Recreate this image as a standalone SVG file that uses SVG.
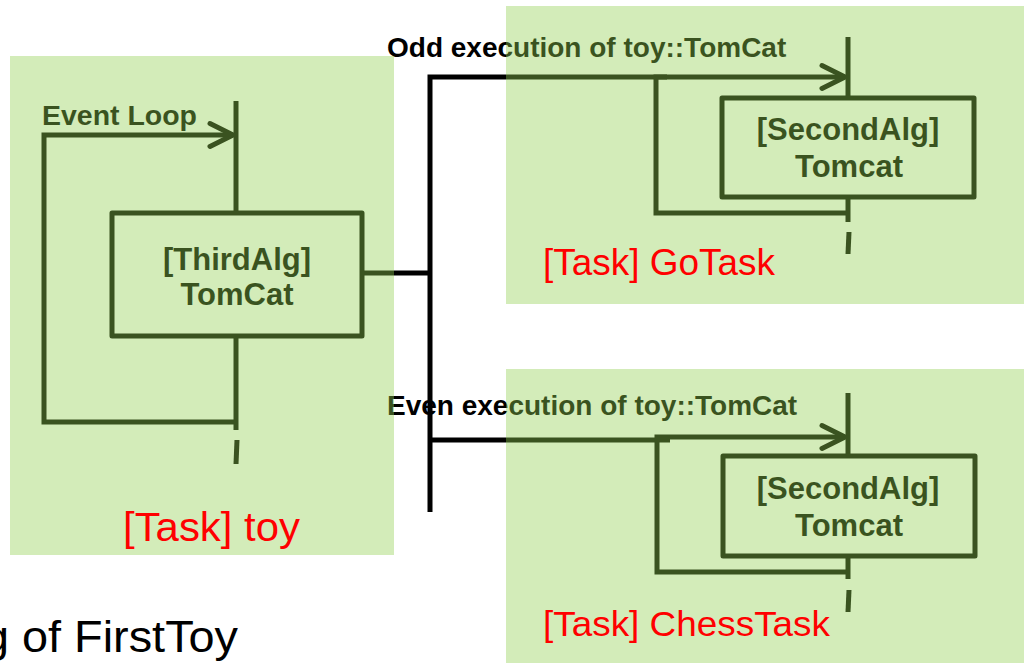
<svg xmlns="http://www.w3.org/2000/svg" width="1024" height="664" viewBox="0 0 1024 664">
  <style>
    .ln { fill: none; stroke: #000; stroke-width: 5; }
    .box { fill: none; stroke: #000; stroke-width: 5; stroke-linejoin: round; }
    .alg { font-family: "Liberation Sans", Arial, sans-serif; font-weight: bold; font-size: 31px; fill: #000; text-anchor: middle; }
    .cap { font-family: "Liberation Sans", Arial, sans-serif; font-weight: bold; font-size: 28px; fill: #000; }
    .panel { fill: #92D050; fill-opacity: 0.4; }
    .task { font-family: "Liberation Sans", Arial, sans-serif; fill: #FF0000; }
    .title { font-family: "Liberation Sans", Arial, sans-serif; font-size: 45px; fill: #000; }
  </style>
  <defs>
    <marker id="chev" viewBox="0 0 30 30" refX="26" refY="15" markerWidth="30" markerHeight="30" markerUnits="userSpaceOnUse" orient="auto">
      <path d="M3,3.5 L26,15 L3,26.5" fill="none" stroke="#000" stroke-width="5" stroke-linecap="round" stroke-linejoin="round"/>
    </marker>
  </defs>

  <!-- connectors: event loops, timelines and dispatch lines (drawn black, tinted by the task panels above) -->
  <g id="connectors">
    <!-- toy event loop -->
    <path class="ln" d="M236,101 V213"/>
    <path class="ln" d="M236,336 V430"/>
    <path class="ln" d="M236,422 H44 V135 H233" marker-end="url(#chev)"/>
    <path class="ln" d="M237,440 L236,464"/>
    <!-- dispatch from ThirdAlg -->
    <path class="ln" d="M362,273 H430"/>
    <path class="ln" d="M430,512 V77 H667"/>
    <path class="ln" d="M430,440 H670"/>
    <!-- GoTask loop -->
    <path class="ln" d="M848,37 V98"/>
    <path class="ln" d="M848,197 V222"/>
    <path class="ln" d="M848,213 H656 V77 H845" marker-end="url(#chev)"/>
    <path class="ln" d="M849,232 L848,254"/>
    <!-- ChessTask loop -->
    <path class="ln" d="M848,393 V456"/>
    <path class="ln" d="M848,556 V579"/>
    <path class="ln" d="M848,572 H657 V437 H845" marker-end="url(#chev)"/>
    <path class="ln" d="M849,590 L848,612"/>
  </g>

  <!-- loop captions -->
  <g id="captions">
    <text class="cap" x="42" y="125" textLength="155" lengthAdjust="spacingAndGlyphs">Event Loop</text>
    <text class="cap" x="387" y="57">Odd execution of toy::TomCat</text>
    <text class="cap" x="387" y="415">Even execution of toy::TomCat</text>
  </g>

  <g id="third-alg">
    <rect class="box" x="112" y="213" width="250" height="123"/>
    <text class="alg" x="237" y="270">[ThirdAlg]</text>
    <text class="alg" x="237" y="305">TomCat</text>
  </g>

  <g id="second-alg-go">
    <rect class="box" x="722" y="98" width="252" height="99"/>
    <text class="alg" x="848" y="140">[SecondAlg]</text>
    <text class="alg" x="849" y="177">Tomcat</text>
  </g>

  <g id="second-alg-chess">
    <rect class="box" x="723" y="456" width="252" height="100"/>
    <text class="alg" x="848" y="499">[SecondAlg]</text>
    <text class="alg" x="849" y="536">Tomcat</text>
  </g>

  <!-- translucent task panels -->
  <g id="task-toy">
    <rect class="panel" x="10" y="56" width="384" height="499"/>
  </g>
  <g id="task-go">
    <rect class="panel" x="506" y="6" width="518" height="298"/>
  </g>
  <g id="task-chess">
    <rect class="panel" x="506" y="369" width="518" height="294"/>
  </g>

  <!-- task names -->
  <g id="task-labels">
    <text class="task" x="123" y="541" font-size="41" textLength="177" lengthAdjust="spacingAndGlyphs">[Task] toy</text>
    <text class="task" x="543" y="275" font-size="36" textLength="232" lengthAdjust="spacingAndGlyphs">[Task] GoTask</text>
    <text class="task" x="543" y="636" font-size="35" textLength="287" lengthAdjust="spacingAndGlyphs">[Task] ChessTask</text>
  </g>

  <text class="title" x="-17" y="652" textLength="255" lengthAdjust="spacingAndGlyphs">g of FirstToy</text>
</svg>
